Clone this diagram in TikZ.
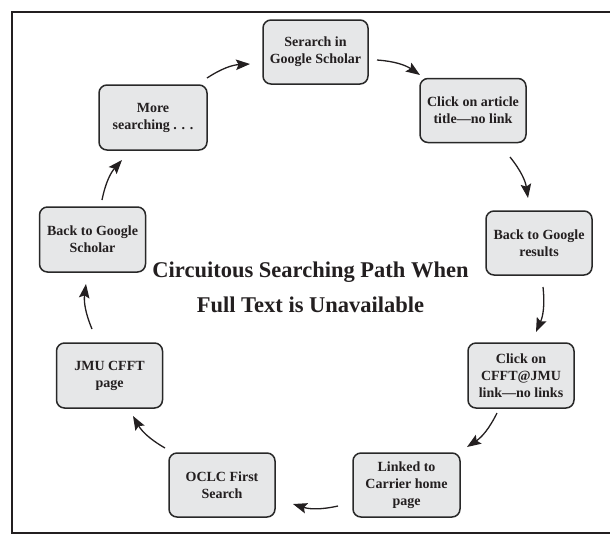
\documentclass[tikz,border=0pt]{standalone}
\usepackage{fontspec}
\setmainfont{Liberation Serif}
\usetikzlibrary{arrows.meta}
\definecolor{boxfill}{RGB}{230,231,232}
\definecolor{boxline}{RGB}{40,40,40}
\definecolor{inkc}{RGB}{35,31,32}
\tikzset{
  stepbox/.style={draw=boxline, fill=boxfill, line width=1.5pt, rounded corners=8pt,
    minimum width=106pt, minimum height=64pt, align=center, text=inkc,
    font=\bfseries\fontsize{14}{17}\selectfont, inner sep=2pt},
  arr/.style={draw=inkc, line width=1.3pt, -{Stealth[length=14pt,width=10.5pt,inset=2.5pt]}, bend left=15},
  frame/.style={draw=inkc, line width=1.4pt}
}
\begin{document}
\begin{tikzpicture}[x=1pt,y=-1pt]
\useasboundingbox (0,0) rectangle (610,550);
\coordinate (f1) at (610,12);
\coordinate (f2) at (12,12);
\coordinate (f3) at (12,533);
\coordinate (f4) at (610,533);
\draw[frame] (f1) -- (f2) -- (f3) -- (f4);

\node[stepbox, minimum width=105pt] (n1) at (315.5,52) {Serarch in\\Google Scholar};
\node[stepbox] (n2) at (473,110.5) {Click on article\\title—no link};
\node[stepbox] (n3) at (539,243) {Back to Google\\results};
\node[stepbox, minimum height=65pt] (n4) at (521,375.5) {Click on\\CFFT@JMU\\link—no links};
\node[stepbox, minimum width=107pt] (n5) at (406.5,485) {Linked to\\Carrier home\\page};
\node[stepbox] (n6) at (222,485) {OCLC First\\Search};
\node[stepbox, minimum height=65pt] (n7) at (109.5,375.5) {JMU CFFT\\page};
\node[stepbox, minimum height=65pt] (n8) at (92.5,239.5) {Back to Google\\Scholar};
\node[stepbox, minimum width=108pt, minimum height=65pt] (n9) at (153,117.5) {More\\searching . . .};

\node[align=center, text=inkc, font=\bfseries\fontsize{22.5}{35}\selectfont] (title) at (310.5,287) {Circuitous Searching Path When\\Full Text is Unavailable};

\coordinate (a1s) at (207,78);  \coordinate (a1e) at (250,64);
\coordinate (a2s) at (377,60);  \coordinate (a2e) at (420,75);
\coordinate (a3s) at (510,157); \coordinate (a3e) at (528,198);
\coordinate (a4s) at (543,287); \coordinate (a4e) at (536,332);
\coordinate (a5s) at (497,413); \coordinate (a5e) at (467,447);
\coordinate (a6s) at (338,506); \coordinate (a6e) at (293,504);
\coordinate (a7s) at (165,448); \coordinate (a7e) at (133,416);
\coordinate (a8s) at (92,329);  \coordinate (a8e) at (86,284);
\coordinate (a9s) at (102,200); \coordinate (a9e) at (122,160);

\draw[arr] (a1s) to (a1e);
\draw[arr] (a2s) to (a2e);
\draw[arr] (a3s) to (a3e);
\draw[arr] (a4s) to (a4e);
\draw[arr] (a5s) to (a5e);
\draw[arr] (a6s) to (a6e);
\draw[arr] (a7s) to (a7e);
\draw[arr] (a8s) to (a8e);
\draw[arr] (a9s) to (a9e);
\end{tikzpicture}
\end{document}
